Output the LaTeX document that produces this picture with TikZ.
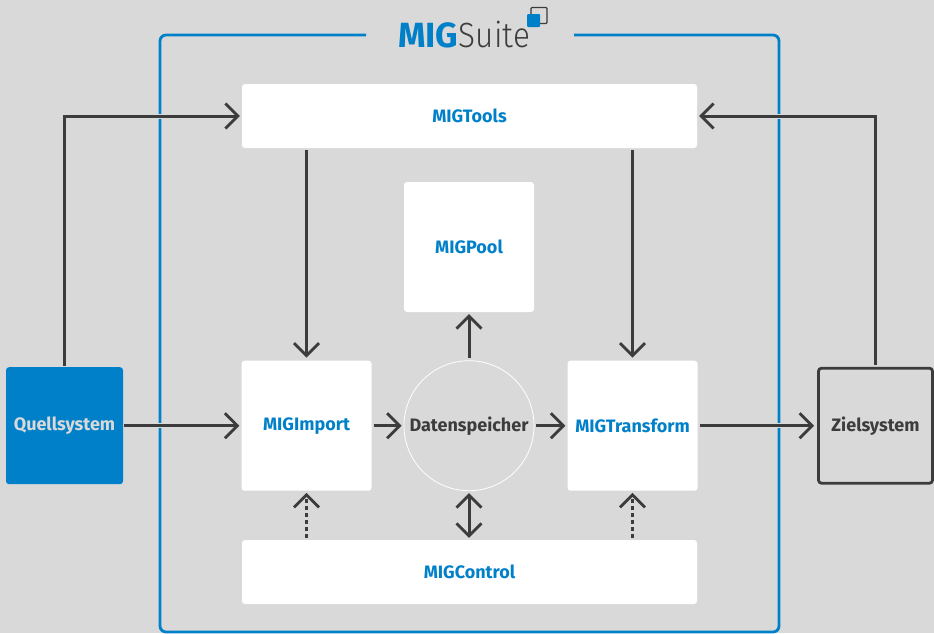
\documentclass[tikz,border=0pt]{standalone}
\usepackage{fontspec}
\setmainfont{Fira Sans}
\newfontfamily\lightf[FakeStretch=0.9]{Fira Sans Light}
\usetikzlibrary{arrows.meta,calc}
\definecolor{bgc}{HTML}{D9D9D9}
\definecolor{migblue}{HTML}{0080C9}
\definecolor{ink}{HTML}{3C3C3C}
\tikzset{
  x=1pt,y=-1pt,
  labelfont/.style={font=\fontsize{18}{20}\selectfont\bfseries},
  whitebox/.style={fill=white,rounded corners=3pt,inner sep=0pt,text=migblue,labelfont,anchor=center},
  barb/.tip={Straight Barb[length=12.5pt,width=25pt,line width=2.8pt]},
  conn/.style={draw=ink,line width=3pt,-barb,preaction={draw=bgc,line width=5pt,-}},
  conntwo/.style={draw=ink,line width=3pt,barb-barb},
  dotconn/.style={draw=ink,line width=3pt,dash pattern=on 4pt off 3pt,-barb},
}
\begin{document}
\begin{tikzpicture}
\fill[bgc] (0,0) rectangle (934,633);
\useasboundingbox (0,0) rectangle (934,633);
% frame
\draw[migblue,line width=2.8pt,rounded corners=6pt] (366,35) -- (160,35) -- (160,632) -- (779,632) -- (779,35) -- (574,35);
% logo
\node[anchor=base west,inner sep=0pt,text=migblue,font=\fontsize{35}{40}\selectfont\bfseries] (mig) at (398,47) {MIG};
\node[anchor=base west,inner sep=0pt,text=ink,font=\fontsize{35}{40}\selectfont\lightf] (suite) at (mig.base east) {Suite};
\draw[ink,line width=1.1pt,rounded corners=1pt] (531,7.5) rectangle (547,23.5);
\fill[migblue,rounded corners=1pt] (527,14) rectangle (540,27);
% boxes
\node[whitebox,minimum width=455pt,minimum height=64pt] (tools) at (469.5,116) {MIGTools};
\node[whitebox,minimum width=130pt,minimum height=130pt] (pool) at (469,247) {MIGPool};
\node[whitebox,minimum width=130pt,minimum height=130pt] (import) at (306.5,425.7) {MIGImport};
\node[whitebox,minimum width=130pt,minimum height=130pt] (transform) at (632.5,425.7) {MIGTransform};
\node[whitebox,minimum width=455pt,minimum height=64pt] (control) at (469.5,572) {MIGControl};
\node[circle,draw=white,line width=0.8pt,minimum size=130pt,inner sep=0pt,text=ink,labelfont] (store) at (469,425.7) {Datenspeicher};
\node[fill=migblue,rounded corners=3pt,minimum width=117pt,minimum height=117pt,inner sep=0pt,text=bgc,labelfont] (quell) at (64.5,425.7) {Quellsystem};
\node[draw=ink,line width=2.8pt,rounded corners=3pt,minimum width=114pt,minimum height=115pt,inner sep=0pt,text=ink,labelfont] (ziel) at (875.5,425.7) {Zielsystem};
% connectors
\draw[conn,shorten >=2pt] (quell.north) ++(0,-1) |- (tools.west);
\draw[conn,shorten >=2pt] (ziel.north) ++(0,-2) |- (tools.east);
\draw[conn,shorten <=1pt,shorten >=2pt] (quell.east) -- (import.west);
\draw[conn,shorten <=2pt,shorten >=2pt] (import.east) -- (store.west);
\draw[conn,shorten <=2pt,shorten >=2pt] (store.east) -- (transform.west);
\draw[conn,shorten <=2pt,shorten >=3pt] (transform.east) -- (ziel.west);
\draw[conn,shorten <=2pt,shorten >=3pt] (tools.south -| import.north) -- (import.north);
\draw[conn,shorten <=2pt,shorten >=3pt] (tools.south -| transform.north) -- (transform.north);
\draw[conn,shorten <=2pt,shorten >=2pt] (store.north) -- (pool.south);
\draw[conntwo,shorten <=2pt,shorten >=2pt] (control.north -| store.south) -- (store.south);
\draw[dotconn,shorten <=2pt,shorten >=2pt] (control.north -| import.south) -- (import.south);
\draw[dotconn,shorten <=2pt,shorten >=2pt] (control.north -| transform.south) -- (transform.south);
\end{tikzpicture}
\end{document}
